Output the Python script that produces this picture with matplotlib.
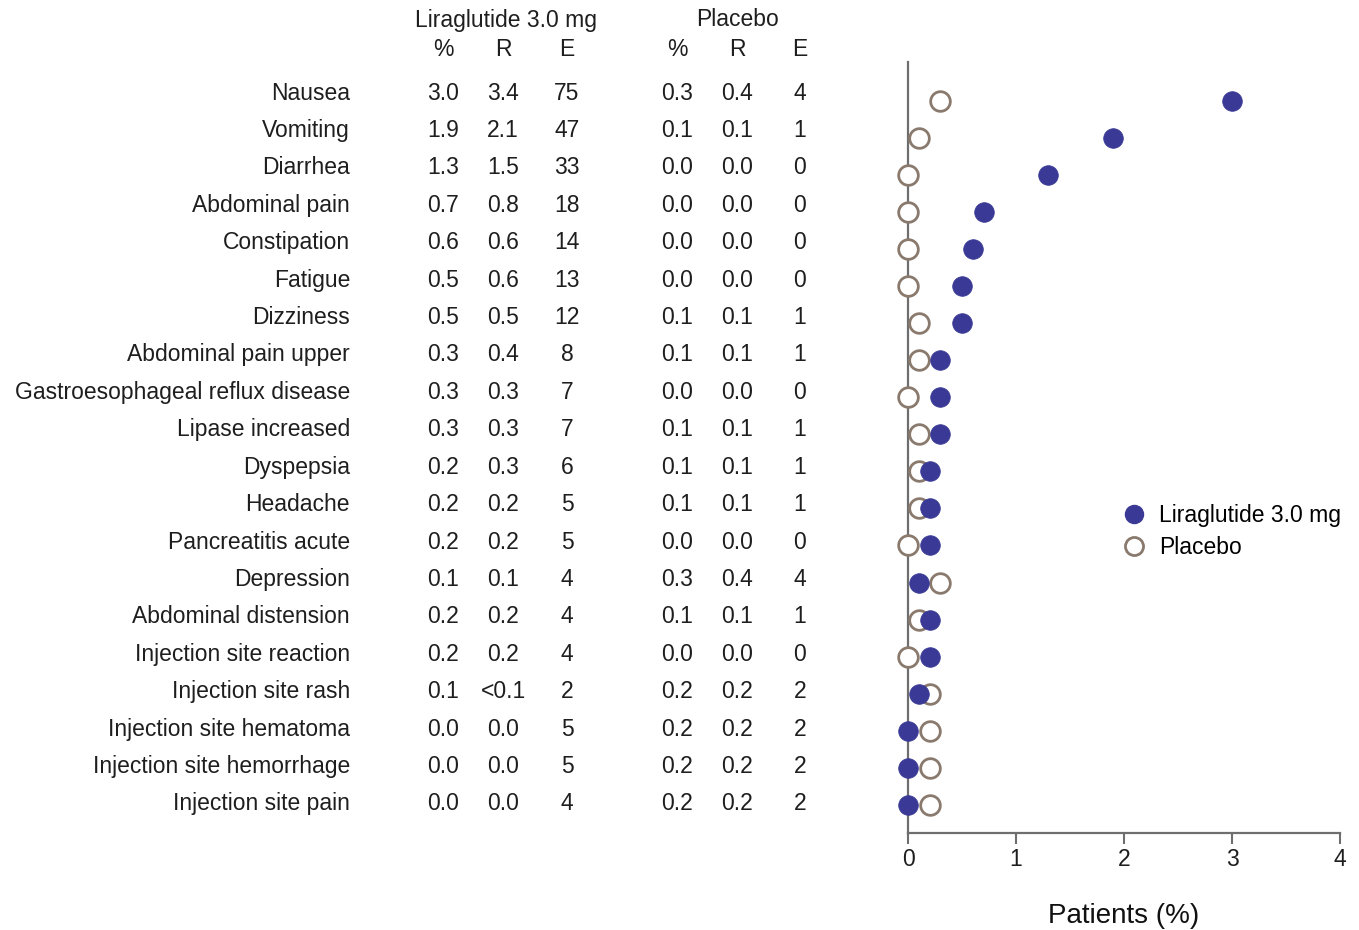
import matplotlib.pyplot as plt
from matplotlib.lines import Line2D
from matplotlib.transforms import blended_transform_factory

plt.rcParams["font.family"] = ["Liberation Sans", "DejaVu Sans"]

# ── Data ─────────────────────────────────────────────────────────────────────
events = [
    "Nausea", "Vomiting", "Diarrhea", "Abdominal pain", "Constipation",
    "Fatigue", "Dizziness", "Abdominal pain upper",
    "Gastroesophageal reflux disease", "Lipase increased", "Dyspepsia",
    "Headache", "Pancreatitis acute", "Depression", "Abdominal distension",
    "Injection site reaction", "Injection site rash",
    "Injection site hematoma", "Injection site hemorrhage",
    "Injection site pain",
]
lira_pct = [3.0, 1.9, 1.3, 0.7, 0.6, 0.5, 0.5, 0.3, 0.3, 0.3,
            0.2, 0.2, 0.2, 0.1, 0.2, 0.2, 0.1, 0.0, 0.0, 0.0]
lira_r = ["3.4", "2.1", "1.5", "0.8", "0.6", "0.6", "0.5", "0.4", "0.3", "0.3",
          "0.3", "0.2", "0.2", "0.1", "0.2", "0.2", "<0.1", "0.0", "0.0", "0.0"]
lira_e = [75, 47, 33, 18, 14, 13, 12, 8, 7, 7, 6, 5, 5, 4, 4, 4, 2, 5, 5, 4]
plac_pct = [0.3, 0.1, 0.0, 0.0, 0.0, 0.0, 0.1, 0.1, 0.0, 0.1,
            0.1, 0.1, 0.0, 0.3, 0.1, 0.0, 0.2, 0.2, 0.2, 0.2]
plac_r = ["0.4", "0.1", "0.0", "0.0", "0.0", "0.0", "0.1", "0.1", "0.0", "0.1",
          "0.1", "0.1", "0.0", "0.4", "0.1", "0.0", "0.2", "0.2", "0.2", "0.2"]
plac_e = [4, 1, 0, 0, 0, 0, 1, 1, 0, 1, 1, 1, 0, 4, 1, 0, 2, 2, 2, 2]

FILL = "#3a3a96"
EDGE = "#8a7a6e"
AXIS = "#6e6e6e"
INK = "#1e1e1e"
FS = 16.5
W, H = 1359, 930

fig = plt.figure(figsize=(W / 100, H / 100), dpi=100)
ax = fig.add_axes([908 / W, 1 - 833 / H, 432 / W, 771 / H])

rows = list(range(len(events)))
ax.scatter(plac_pct, rows, s=200, facecolors="white", edgecolors=EDGE,
           linewidths=2, clip_on=False, zorder=3)
ax.scatter(lira_pct, rows, s=200, color=FILL, edgecolors=FILL,
           linewidths=0.5, clip_on=False, zorder=4)

ax.set_xlim(0, 4)
ax.set_ylim(19.76, -1.05)
ax.set_xticks([0, 1, 2, 3, 4])
ax.set_yticks([])
ax.tick_params(axis="x", direction="out", length=8, width=1.5, colors=AXIS,
               labelcolor=INK, labelsize=FS, pad=3)
for side in ("top", "right"):
    ax.spines[side].set_visible(False)
for side in ("left", "bottom"):
    ax.spines[side].set_color(AXIS)
    ax.spines[side].set_linewidth(1.6)
ax.set_xlabel("Patients (%)", fontsize=20, labelpad=23, color="#111111")

# ── Table to the left of the axis (rows slightly wider spaced than dots) ─────
txt = dict(fontsize=FS, color=INK, va="center", transform=fig.transFigure)
cols = [443, 503, 567, 677, 737, 800]
for i, name in enumerate(events):
    y = 1 - (93 + i * 37.42) / H
    fig.text(350 / W, y, name, ha="right", **txt)
    cells = [f"{lira_pct[i]:.1f}", lira_r[i], str(lira_e[i]),
             f"{plac_pct[i]:.1f}", plac_r[i], str(plac_e[i])]
    for x, c in zip(cols, cells):
        fig.text(x / W, y, c, ha="center", **txt)

hdr = dict(fontsize=FS, color=INK, ha="center", va="center")
fig.text(506 / W, 1 - 20 / H, "Liraglutide 3.0 mg", **hdr)
fig.text(738 / W, 1 - 20 / H, "Placebo", **hdr)
for x, c in zip(cols, ["%", "R", "E"] * 2):
    fig.text(x / W, 1 - 50 / H, c, **hdr)

handles = [
    Line2D([], [], marker="o", linestyle="none", markersize=13,
           markerfacecolor=FILL, markeredgecolor=FILL),
    Line2D([], [], marker="o", linestyle="none", markersize=13,
           markerfacecolor="white", markeredgecolor=EDGE, markeredgewidth=2),
]
fig.legend(handles, ["Liraglutide 3.0 mg", "Placebo"], loc="upper left",
           bbox_to_anchor=(1120 / W, 1 - 504 / H), frameon=False, fontsize=FS,
           handletextpad=0.5, labelspacing=0.4, borderaxespad=0,
           handlelength=1.2, borderpad=0)

fig.savefig("out.png", dpi=100, facecolor="white")
